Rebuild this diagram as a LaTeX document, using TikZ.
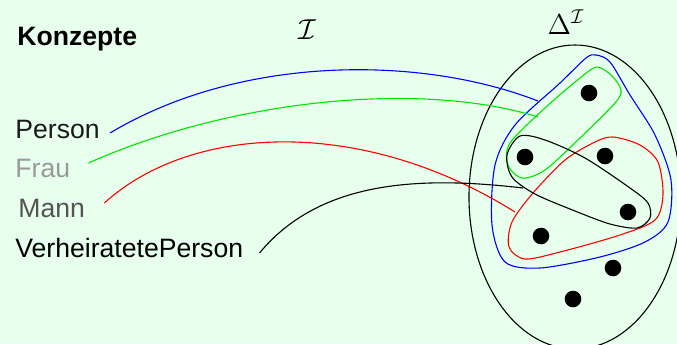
\documentclass[tikz,border=0pt]{standalone}
\usepackage{fontspec}
\setmainfont{Liberation Sans}
\usetikzlibrary{positioning}
\definecolor{bgmint}{RGB}{232,255,238}
\definecolor{frauGray}{gray}{0.6}
\definecolor{mannGray}{gray}{0.33}
\definecolor{ligreen}{RGB}{0,230,0}

\begin{document}
\begin{tikzpicture}[
    x=0.5pt, y=-0.5pt,
    concept/.style={anchor=base west, inner sep=0pt, font=\fontsize{13.3}{15}\selectfont},
    mathlbl/.style={inner sep=0pt, font=\fontsize{14}{16}\selectfont},
    link/.style={line width=0.55pt},
    ext/.style={line width=0.55pt},
    elem/.style={circle, fill=black, inner sep=0pt, minimum size=8.3pt}
]
\useasboundingbox[fill=bgmint] (0,0) rectangle (677,344);
\clip (0,0) rectangle (677,344);

% labels
\node[concept, font=\fontsize{13.3}{15}\selectfont\bfseries] (title) at (17,45) {Konzepte};
\node[mathlbl] (interp) at (307,30) {$\mathcal{I}$};
\node[mathlbl] (domain) at (566,22) {$\Delta^{\mathcal{I}}$};

\node[concept, text=black!90] (person) at (15,138) {Person};
\node[concept, text=frauGray] (frau) at (15,177) {Frau};
\node[concept, text=mannGray] (mann) at (18,217) {Mann};
\node[concept] (verh) at (15,257) {VerheiratetePerson};

% domain
\draw[ext] (575,197) ellipse [x radius=106, y radius=152];

% extensions
\draw[ext, blue] plot[smooth cycle] coordinates {(596,55) (610,62) (630,95) (655,135) (671,180)
    (668,222) (645,242) (600,257) (540,268) (505,262) (492,225) (495,165) (515,125) (560,83) (586,58)};
\draw[ext, ligreen] plot[smooth cycle] coordinates {(597,67) (612,76) (621,90) (615,103) (580,138)
    (545,170) (522,178) (508,165) (510,143) (545,108) (580,78)};
\draw[ext, red] plot[smooth cycle] coordinates {(613,137) (640,145) (658,162) (663,195) (655,220)
    (620,235) (560,252) (525,259) (509,247) (512,222) (533,193) (565,160) (595,142)};
\draw[ext] plot[smooth cycle] coordinates {(520,136) (545,140) (585,158) (630,188) (648,203)
    (650,218) (637,228) (610,224) (575,211) (535,194) (512,177) (507,155)};

% elements
\node[elem] (e1) at (589,93) {};
\node[elem] (e2) at (525,157) {};
\node[elem] (e3) at (605,156) {};
\node[elem] (e4) at (628,212) {};
\node[elem] (e5) at (541,236) {};
\node[elem] (e6) at (613,268) {};
\node[elem] (e7) at (573,299) {};

% connectors
\coordinate (person-out) at ([shift={(10,-5)}]person.base east);
\coordinate (frau-out) at ([shift={(18,-14)}]frau.base east);
\coordinate (mann-out) at ([shift={(19,-14)}]mann.base east);
\coordinate (verh-out) at ([shift={(16,-4)}]verh.base east);
\coordinate (person-in) at (538,101);
\coordinate (frau-in) at (538,117);
\coordinate (mann-in) at (515,212);
\coordinate (verh-in) at (523,188);

\draw[link, blue] (person-out) .. controls (240,55) and (420,55) .. (person-in);
\draw[link, ligreen] (frau-out) .. controls (230,100) and (420,80) .. (frau-in);
\draw[link, red] (mann-out) .. controls (190,125) and (360,115) .. (mann-in);
\draw[link] (verh-out) .. controls (320,180) and (420,176) .. (verh-in);
\end{tikzpicture}
\end{document}
